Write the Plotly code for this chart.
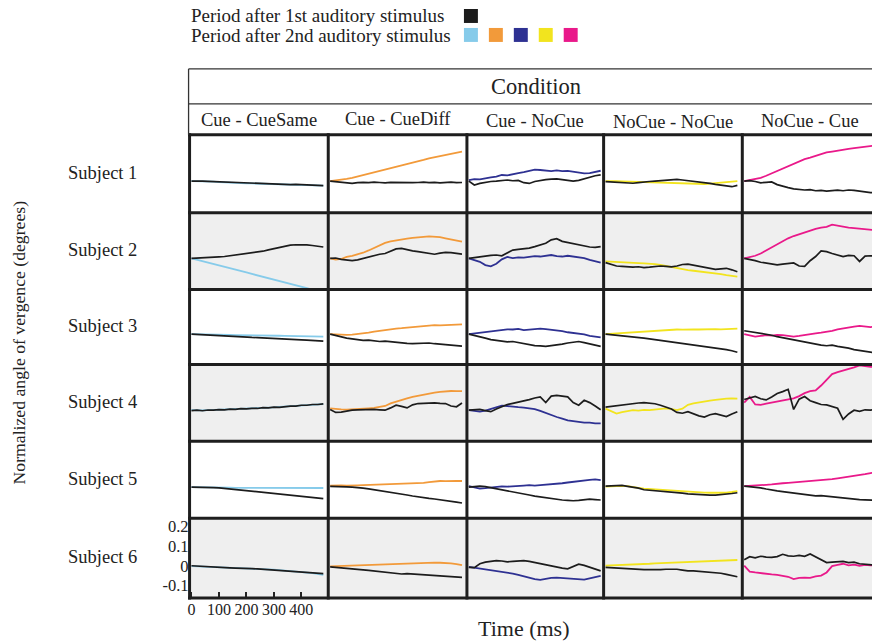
import plotly.graph_objects as go

# ---------------- data (values in millidegrees) ----------------
time_ms = [0, 20, 40, 60, 80, 100, 120, 140, 160, 180, 200, 220, 240,
           260, 280, 300, 320, 340, 360, 380, 400, 420, 440, 460, 480]

conditions = ["Cue - CueSame", "Cue - CueDiff", "Cue - NoCue", "NoCue - NoCue", "NoCue - Cue"]
subjects = ["Subject 1", "Subject 2", "Subject 3", "Subject 4", "Subject 5", "Subject 6"]
legend_labels = ["Period after 1st auditory stimulus", "Period after 2nd auditory stimulus"]
second_colors = ["#86cbea", "#f29a3a", "#2e3192", "#f2e41e", "#e9198a"]
first_color = "#1c1c1c"
y_tick_vals = [-0.1, 0, 0.1, 0.2]
y_tick_text = ["-0.1", "0", "0.1", "0.2"]
x_tick_vals = [0, 100, 200, 300, 400]

# Subject 1
s1c1_first = [0, 1, 0, -1, -2, -4, -6, -8, -9, -11, -11, -13, -12, -14, -15, -14, -16, -16, -18, -17, -19, -21, -20, -22, -23]
s1c1_second = [0, 0, -1, -2, -3, -5, -7, -9, -10, -11, -12, -12, -13, -14, -14, -15, -15, -16, -17, -18, -19, -20, -21, -22, -23]
s1c2_first = [0, -3, -5, -9, -12, -8, -6, -8, -5, -7, -9, -6, -7, -8, -6, -8, -7, -5, -8, -6, -9, -7, -5, -8, -7]
s1c2_second = [0, 3, 7, 12, 17, 24, 30, 37, 44, 51, 58, 66, 74, 81, 88, 95, 102, 110, 118, 124, 130, 136, 142, 148, 154]
s1c3_first = [0, -20, -12, -6, -2, 0, 3, 6, 2, 4, -8, -12, -2, 4, 8, 10, 12, 8, 5, 0, 4, 12, 22, 28, 33]
s1c3_second = [5, 10, 9, 16, 20, 24, 32, 30, 38, 42, 47, 55, 60, 58, 55, 52, 56, 52, 53, 48, 44, 40, 42, 48, 54]
s1c4_first = [-3, -5, -8, -10, -12, -11, -8, -4, -2, 0, 3, 5, 7, 9, 6, 3, 0, -4, -8, -12, -17, -21, -26, -29, -22]
s1c4_second = [0, 1, 0, -1, -2, -2, -3, -4, -6, -8, -10, -11, -12, -13, -14, -15, -16, -16, -15, -13, -11, -8, -5, -2, 0]
s1c5_first = [0, 3, -2, -9, -6, -4, -18, -28, -34, -40, -42, -46, -44, -50, -48, -52, -49, -47, -50, -46, -48, -52, -55, -60, -58]
s1c5_second = [0, 5, 10, 17, 28, 40, 52, 66, 80, 92, 104, 114, 122, 132, 140, 149, 154, 160, 165, 168, 172, 176, 180, 184, 186]

# Subject 2
s2c1_first = [0, 1, 3, 3, 5, 8, 10, 14, 17, 20, 23, 27, 32, 38, 45, 52, 60, 66, 70, 72, 72, 71, 68, 64, 60]
s2c1_second = [0, -7, -15, -22, -30, -37, -45, -52, -60, -67, -74, -82, -89, -97, -104, -112, -119, -126, -134, -141, -149, -156, -164, -171, -178]
s2c2_first = [0, 2, -5, -10, -12, -8, 0, 8, 15, 22, 26, 38, 50, 53, 46, 40, 36, 30, 24, 22, 28, 32, 30, 26, 23]
s2c2_second = [0, -6, -3, 8, 14, 20, 30, 42, 55, 72, 82, 90, 96, 100, 104, 108, 112, 114, 116, 114, 112, 106, 100, 94, 88]
s2c3_first = [0, 5, 10, 12, 16, 18, 14, 30, 44, 48, 50, 54, 62, 72, 80, 98, 104, 90, 84, 76, 70, 66, 60, 58, 62]
s2c3_second = [0, -10, -18, -35, -42, -28, -5, 8, 2, 6, 4, 8, 12, 10, 16, 18, 12, 10, 14, 9, 8, 2, -8, -14, -22]
s2c4_first = [-22, -32, -40, -42, -44, -46, -44, -48, -46, -42, -40, -42, -45, -40, -32, -30, -36, -44, -48, -54, -58, -55, -52, -60, -70]
s2c4_second = [-16, -18, -20, -22, -23, -24, -25, -26, -27, -30, -34, -40, -46, -52, -56, -62, -65, -68, -72, -75, -79, -83, -88, -92, -96]
s2c5_first = [0, -5, -12, -20, -26, -30, -34, -30, -26, -24, -40, -42, -12, 10, 40, 36, 26, 18, 10, 16, 14, -16, 12, 14, 10]
s2c5_second = [0, 6, 14, 26, 42, 62, 76, 92, 106, 118, 128, 140, 148, 156, 162, 166, 178, 172, 166, 162, 160, 156, 152, 150, 148]

# Subject 3
s3c1_first = [0, -2, -4, -6, -8, -9, -10, -11, -13, -15, -17, -18, -19, -20, -22, -24, -25, -27, -28, -30, -31, -33, -35, -37, -38]
s3c1_second = [0, 0, -1, -2, -2, -3, -4, -4, -5, -5, -6, -6, -7, -7, -8, -8, -9, -10, -10, -11, -12, -12, -13, -14, -14]
s3c2_first = [0, -8, -16, -22, -26, -30, -34, -33, -36, -40, -38, -42, -46, -48, -50, -52, -50, -46, -48, -52, -54, -56, -58, -62, -65]
s3c2_second = [0, -2, -3, -4, -3, 0, 4, 8, 14, 19, 22, 26, 30, 32, 35, 38, 40, 44, 48, 49, 47, 48, 50, 52, 53]
s3c3_first = [0, -6, -14, -22, -30, -34, -38, -42, -40, -46, -54, -58, -62, -64, -66, -62, -60, -54, -48, -44, -40, -46, -54, -62, -66]
s3c3_second = [0, 4, 6, 14, 18, 22, 24, 26, 25, 28, 22, 24, 28, 30, 27, 24, 20, 16, 10, 6, 3, -2, -10, -14, -18]
s3c4_first = [0, -3, -6, -8, -10, -14, -18, -22, -26, -30, -33, -36, -40, -44, -48, -54, -58, -62, -66, -70, -74, -79, -84, -90, -98]
s3c4_second = [0, 2, 3, 5, 7, 9, 12, 15, 18, 20, 23, 25, 26, 25, 24, 26, 26, 25, 27, 26, 27, 26, 28, 29, 30]
s3c5_first = [18, 14, 8, 4, 0, -6, -14, -20, -26, -32, -38, -44, -50, -54, -60, -63, -60, -66, -70, -76, -84, -88, -94, -98, -102]
s3c5_second = [0, -8, -14, -10, -6, -8, -4, -6, -10, -14, -10, -4, 2, 4, 8, 12, 18, 26, 32, 34, 40, 44, 40, 38, 42]

# Subject 4
s4c1_first = [-2, 0, -3, 1, 0, 3, 2, 6, 4, 8, 7, 10, 9, 13, 12, 16, 15, 19, 21, 21, 26, 26, 30, 30, 33]
s4c1_second = [0, -2, -1, 0, 1, 2, 3, 5, 5, 7, 8, 9, 11, 12, 14, 15, 17, 19, 20, 22, 25, 27, 29, 31, 32]
s4c2_first = [3, -12, -10, -4, 0, 2, 3, 4, 4, 2, 0, 12, 26, 20, 12, 28, 35, 36, 38, 39, 36, 35, 22, 18, 38]
s4c2_second = [10, 6, 4, 3, 4, 6, 8, 10, 12, 16, 22, 36, 46, 54, 62, 70, 76, 82, 88, 92, 96, 100, 101, 100, 100]
s4c3_first = [0, 2, 4, -2, -8, 6, 18, 30, 36, 42, 48, 56, 64, 70, 40, 74, 78, 74, 70, 40, 26, 52, 40, 22, 2]
s4c3_second = [0, -4, -8, -2, 6, 14, 24, 22, 18, 16, 14, 10, 6, -4, -16, -24, -36, -44, -54, -58, -62, -66, -66, -70, -70]
s4c4_first = [16, 20, 24, 26, 30, 34, 38, 40, 36, 34, 26, 18, 6, -12, -16, -8, -20, -30, -36, -24, -18, -28, -34, -20, -8]
s4c4_second = [8, -6, -18, -10, -6, 0, -2, 2, 0, 4, 6, 9, 6, 0, 8, 28, 36, 42, 48, 50, 54, 58, 61, 62, 61]
s4c5_first = [56, 66, 72, 60, 54, 70, 88, 98, 110, 4, 58, 72, 50, 40, 30, 28, 18, 10, -48, -20, 0, -6, 2, 0, 4]
s4c5_second = [40, 70, 30, 28, 34, 40, 44, 48, 56, 62, 74, 90, 100, 104, 130, 162, 190, 200, 208, 214, 226, 236, 232, 228, 230]

# Subject 5
s5c1_first = [0, 0, -1, -2, -3, -4, -7, -10, -13, -16, -19, -22, -25, -28, -31, -34, -37, -40, -43, -46, -49, -52, -55, -58, -61]
s5c1_second = [0, 0, -1, -1, -2, -2, -3, -3, -4, -4, -5, -5, -5, -6, -5, -5, -4, -4, -4, -4, -4, -5, -5, -5, -5]
s5c2_first = [4, 2, 3, 1, 0, -2, -6, -10, -14, -20, -26, -29, -33, -37, -42, -47, -52, -56, -60, -63, -66, -70, -74, -79, -84]
s5c2_second = [8, 10, 9, 8, 10, 9, 10, 11, 12, 12, 14, 13, 15, 16, 16, 18, 20, 22, 26, 30, 32, 31, 33, 32, 32]
s5c3_first = [0, 4, 5, 2, -3, -8, -14, -20, -24, -30, -36, -42, -48, -52, -56, -62, -66, -68, -70, -72, -70, -68, -64, -66, -68]
s5c3_second = [5, -2, -8, -6, -2, 0, 4, 2, 5, 6, 8, 10, 8, 10, 12, 14, 16, 20, 24, 28, 30, 34, 38, 40, 36]
s5c4_first = [5, 6, 8, 9, 4, 0, -6, -14, -16, -18, -20, -24, -28, -30, -32, -36, -38, -40, -41, -42, -42, -40, -38, -34, -30]
s5c4_second = [2, 4, 6, 6, 5, 2, -4, -8, -10, -14, -16, -18, -20, -21, -23, -25, -26, -28, -29, -30, -30, -31, -30, -26, -21]
s5c5_first = [5, 2, 0, -4, -10, -16, -20, -24, -28, -30, -34, -40, -44, -46, -45, -48, -52, -56, -58, -62, -65, -66, -67, -68, -70]
s5c5_second = [5, 6, 8, 10, 12, 14, 18, 20, 22, 24, 26, 28, 30, 34, 36, 40, 42, 46, 50, 54, 58, 62, 68, 74, 78]

# Subject 6
s6c1_first = [0, -2, -4, -6, -6, -8, -10, -11, -12, -12, -14, -15, -16, -18, -20, -21, -22, -24, -26, -28, -30, -32, -35, -38, -40]
s6c1_second = [-2, -3, -4, -5, -7, -8, -9, -10, -11, -13, -14, -16, -17, -18, -19, -20, -22, -24, -26, -29, -32, -35, -38, -42, -46]
s6c2_first = [-6, -8, -10, -12, -16, -18, -21, -24, -27, -30, -33, -36, -38, -42, -40, -42, -44, -46, -48, -50, -52, -54, -55, -57, -59]
s6c2_second = [-3, -2, -2, -1, 0, 1, 3, 4, 5, 6, 7, 8, 10, 11, 12, 14, 15, 16, 17, 16, 15, 14, 12, 8, 3]
s6c3_first = [-8, -10, 10, 18, 22, 26, 24, 20, 22, 24, 26, 22, 16, 10, 4, -2, -8, -12, -16, -6, 8, 2, -8, -18, -26]
s6c3_second = [-6, -10, -16, -20, -24, -28, -32, -36, -40, -46, -54, -62, -68, -72, -66, -62, -60, -62, -65, -66, -68, -70, -64, -56, -52]
s6c4_first = [-8, -10, -12, -13, -14, -16, -18, -20, -20, -21, -20, -18, -17, -18, -22, -26, -26, -28, -30, -31, -34, -38, -44, -50, -56]
s6c4_second = [0, 1, 2, 2, 3, 4, 6, 8, 10, 12, 13, 14, 15, 16, 17, 18, 19, 20, 22, 24, 26, 27, 28, 29, 29]
s6c5_first = [30, 46, 40, 48, 44, 42, 46, 58, 50, 48, 52, 48, 60, 46, 30, 16, 18, 20, 22, 16, 18, 10, 6, 4, 2]
s6c5_second = [0, -30, -34, -38, -40, -44, -46, -50, -56, -68, -62, -60, -62, -54, -50, -34, -2, 4, 10, 2, 6, 0, 4, 2, 0]

first_series = [
    [s1c1_first, s1c2_first, s1c3_first, s1c4_first, s1c5_first],
    [s2c1_first, s2c2_first, s2c3_first, s2c4_first, s2c5_first],
    [s3c1_first, s3c2_first, s3c3_first, s3c4_first, s3c5_first],
    [s4c1_first, s4c2_first, s4c3_first, s4c4_first, s4c5_first],
    [s5c1_first, s5c2_first, s5c3_first, s5c4_first, s5c5_first],
    [s6c1_first, s6c2_first, s6c3_first, s6c4_first, s6c5_first],
]
second_series = [
    [s1c1_second, s1c2_second, s1c3_second, s1c4_second, s1c5_second],
    [s2c1_second, s2c2_second, s2c3_second, s2c4_second, s2c5_second],
    [s3c1_second, s3c2_second, s3c3_second, s3c4_second, s3c5_second],
    [s4c1_second, s4c2_second, s4c3_second, s4c4_second, s4c5_second],
    [s5c1_second, s5c2_second, s5c3_second, s5c4_second, s5c5_second],
    [s6c1_second, s6c2_second, s6c3_second, s6c4_second, s6c5_second],
]

# ---------------- layout geometry (pixels) ----------------
W, H = 872, 643
col_edges = [188, 327, 466, 603, 742, 872]
row_edges = [134, 212, 289, 364, 441, 518, 598]
PX_PER_MS = 139 / 505.0
X0 = -7
Y_RANGE = [-0.164, 0.241]
FONT = "Liberation Serif, Times New Roman, serif"
TXT = "#222222"


def px(x):
    return x / W


def py(y):
    return 1 - y / H


fig = go.Figure()
layout = {}

for r in range(6):
    for c in range(5):
        n = r * 5 + c + 1
        sfx = "" if n == 1 else str(n)
        x_left, x_right = col_edges[c], col_edges[c + 1]
        x_max = X0 + (x_right - x_left) / PX_PER_MS
        xa = dict(domain=[px(x_left), px(x_right)], range=[X0, x_max],
                  anchor="y" + sfx, showgrid=False, zeroline=False,
                  showticklabels=False, ticks="", showline=False, fixedrange=True)
        ya = dict(domain=[py(row_edges[r + 1]), py(row_edges[r])], range=Y_RANGE,
                  anchor="x" + sfx, showgrid=False, zeroline=False,
                  showticklabels=False, ticks="", showline=False, fixedrange=True)
        if r == 5 and c == 0:
            xa.update(showticklabels=True, tickvals=x_tick_vals, ticks="inside",
                      ticklen=6, tickwidth=1.5, tickcolor="#222",
                      tickfont=dict(family=FONT, size=16, color=TXT))
            ya.update(showticklabels=True, tickvals=y_tick_vals, ticktext=y_tick_text,
                      tickfont=dict(family=FONT, size=16.5, color=TXT))
        layout["xaxis" + sfx] = xa
        layout["yaxis" + sfx] = ya

        fig.add_trace(go.Scatter(
            x=time_ms, y=[v / 1000.0 for v in second_series[r][c]],
            xaxis="x" + sfx, yaxis="y" + sfx, mode="lines",
            line=dict(color=second_colors[c], width=1.8), showlegend=False,
            hoverinfo="skip"))
        fig.add_trace(go.Scatter(
            x=time_ms, y=[v / 1000.0 for v in first_series[r][c]],
            xaxis="x" + sfx, yaxis="y" + sfx, mode="lines",
            line=dict(color=first_color, width=1.7), showlegend=False,
            hoverinfo="skip"))

shapes = []
# grey background rows
for r in (1, 3, 5):
    shapes.append(dict(type="rect", xref="paper", yref="paper", layer="below",
                       x0=px(col_edges[0]), x1=1, y0=py(row_edges[r + 1]), y1=py(row_edges[r]),
                       fillcolor="#efefef", line=dict(width=0)))
# thick grid lines
for xe in col_edges[:-1]:
    shapes.append(dict(type="line", xref="paper", yref="paper",
                       x0=px(xe), x1=px(xe), y0=py(row_edges[-1] + 1.5), y1=py(row_edges[0] - 1.5),
                       line=dict(color="#1e1e1e", width=3)))
for ye in row_edges:
    shapes.append(dict(type="line", xref="paper", yref="paper",
                       x0=px(col_edges[0] - 1.5), x1=1, y0=py(ye), y1=py(ye),
                       line=dict(color="#1e1e1e", width=3)))
# header table lines
shapes.append(dict(type="line", xref="paper", yref="paper", x0=px(187), x1=1,
                   y0=py(68), y1=py(68), line=dict(color="#333", width=1.3)))
shapes.append(dict(type="line", xref="paper", yref="paper", x0=px(187), x1=1,
                   y0=py(103), y1=py(103), line=dict(color="#333", width=1.3)))
shapes.append(dict(type="line", xref="paper", yref="paper", x0=px(187), x1=px(187),
                   y0=py(68), y1=py(134), line=dict(color="#333", width=1.3)))
# legend squares
shapes.append(dict(type="rect", xref="paper", yref="paper", x0=px(463), x1=px(477),
                   y0=py(22), y1=py(8), fillcolor=first_color, line=dict(width=0)))
for i, col in enumerate(second_colors):
    xs = 463 + 25 * i
    shapes.append(dict(type="rect", xref="paper", yref="paper", x0=px(xs), x1=px(xs + 14),
                       y0=py(41), y1=py(27), fillcolor=col, line=dict(width=0)))

annotations = []


def text(s, x, y, size, xanchor="center", angle=0):
    annotations.append(dict(text=s, x=px(x), y=py(y), xref="paper", yref="paper",
                            xanchor=xanchor, yanchor="middle", showarrow=False,
                            textangle=angle,
                            font=dict(family=FONT, size=size, color=TXT)))


text(legend_labels[0], 187, 15, 19, xanchor="left")
text(legend_labels[1], 187, 35, 19, xanchor="left")
text("Condition", 535, 86, 22.5)
label_y = [119, 118, 120, 121, 120]
for c, name in enumerate(conditions):
    xc = (col_edges[c] + col_edges[c + 1]) / 2
    if c == 4:
        xc = 810
    text(name, xc, label_y[c], 18.5)
for r, name in enumerate(subjects):
    text(name, 101, (row_edges[r] + row_edges[r + 1]) / 2 - 1, 18.5)
text("Normalized angle of vergence (degrees)", 18, 342, 17.7, angle=-90)
text("Time (ms)", 523, 628, 22)

layout.update(width=W, height=H, margin=dict(l=0, r=0, t=0, b=0),
              paper_bgcolor="white", plot_bgcolor="rgba(0,0,0,0)",
              shapes=shapes, annotations=annotations, showlegend=False)
fig.update_layout(**layout)
fig.write_html("out.html", config={"displayModeBar": False},
               post_script="document.body.style.margin='0';document.body.style.overflow='hidden';")
